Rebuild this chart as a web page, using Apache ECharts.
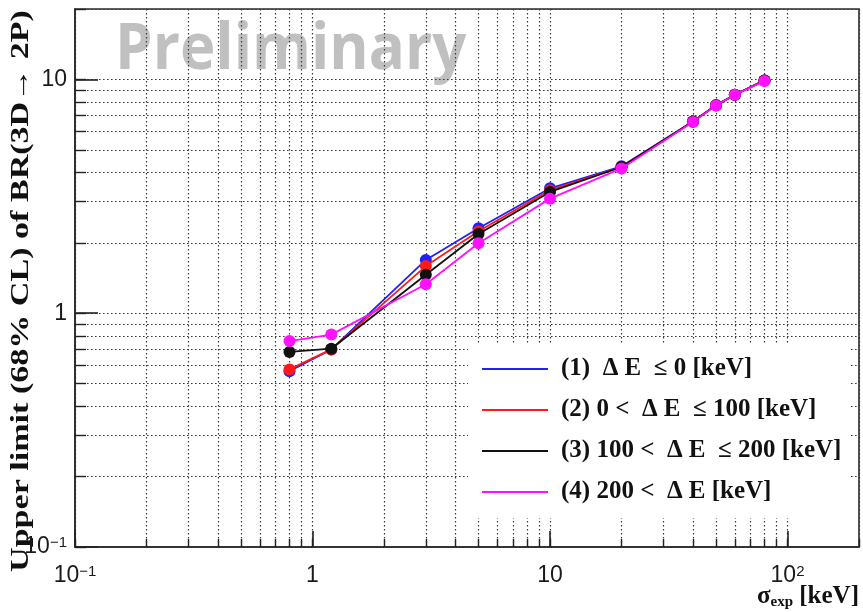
<!DOCTYPE html>
<html>
<head>
<meta charset="utf-8">
<script src="https://cdn.jsdelivr.net/npm/echarts@6/dist/echarts.min.js"></script>
<style>
  html, body { margin: 0; padding: 0; background: #fff; }
  #chart { width: 863px; height: 612px; }
</style>
</head>
<body>
<div id="chart"></div>
<script>
// Expected resolution sigma_exp [keV]
const sigmaExp = [0.8, 1.2, 3, 5, 10, 20, 40, 50, 60, 80];

// Upper limits (68% CL) for each Delta-E selection
const limitDE1 = [0.565, 0.70, 1.69, 2.31, 3.42, 4.25, 6.60, 7.75, 8.60, 9.90];
const limitDE2 = [0.575, 0.70, 1.59, 2.24, 3.36, 4.22, 6.60, 7.75, 8.60, 9.90];
const limitDE3 = [0.683, 0.705, 1.46, 2.18, 3.30, 4.22, 6.60, 7.75, 8.60, 9.90];
const limitDE4 = [0.76, 0.81, 1.33, 1.99, 3.09, 4.16, 6.58, 7.73, 8.59, 9.85];

const seriesNames = [
  '(1)  \u0394 E  \u2264 0 [keV]',
  '(2) 0 <  \u0394 E  \u2264 100 [keV]',
  '(3) 100 <  \u0394 E  \u2264 200 [keV]',
  '(4) 200 <  \u0394 E [keV]'
];
const seriesColors = ['#2020ff', '#ff1a1a', '#111111', '#ff10ff'];

// Axis ranges and decade ticks
const xRange = [0.1, 200];
const yRange = [0.1, 20];
const xMajor = [0.1, 1, 10, 100];
const yMajor = [0.1, 1, 10];
const xMajorLabels = ['{b|10}{s|\u22121}', '{b|1}', '{b|10}', '{b|10}{s|2}'];
const yMajorLabels = ['{b|10}{s|\u22121}', '{b|1}', '{b|10}'];

// minor ticks at 2..9 of each decade, kept inside the range
function minorTicks(range) {
  const out = [];
  for (let e = -1; e <= 2; e++) {
    for (let m = 1; m <= 9; m++) {
      const v = +(m * Math.pow(10, e)).toPrecision(6);
      if (v >= range[0] - 1e-9 && v <= range[1] + 1e-9) out.push(v);
    }
  }
  return out;
}
const xMinor = minorTicks(xRange);
const yMinor = minorTicks(yRange);

function decadeLabel(labels, majors) {
  return function (v) {
    const e = Math.round(Math.log10(v));
    const i = majors.findIndex(m => Math.round(Math.log10(m)) === e);
    return i >= 0 ? labels[i] : '';
  };
}

const tickFont = 'Liberation Sans, Arial, sans-serif';
const serif = 'Liberation Serif, Times New Roman, serif';
const frameColor = '#2a2a2a';
const gridLine = { show: true, lineStyle: { color: '#3a3a3a', width: 1.2, type: [1.6, 2.4] } };
const richTick = {
  b: { fontSize: 23, fontFamily: tickFont, color: '#1a1a1a' },
  s: { fontSize: 15, fontFamily: tickFont, color: '#1a1a1a', verticalAlign: 'top' }
};

const chart = echarts.init(document.getElementById('chart'), null, { renderer: 'canvas' });

const option = {
  backgroundColor: '#fff',
  animation: false,
  grid: {
    left: 75, right: 4, top: 9, bottom: 65,
    show: true, borderColor: frameColor, borderWidth: 1.6, backgroundColor: 'transparent'
  },
  xAxis: [
    {
      type: 'log', logBase: 10, min: xRange[0], max: xRange[1], position: 'bottom',
      axisLine: { show: true, lineStyle: { color: frameColor, width: 1.6 } },
      axisTick: { show: true, inside: true, length: 8, customValues: xMinor, lineStyle: { color: '#222', width: 1.4 } },
      axisLabel: { show: false },
      splitLine: gridLine
    },
    {
      type: 'log', logBase: 10, min: xRange[0], max: xRange[1], position: 'bottom',
      axisLine: { show: false },
      axisTick: { show: true, inside: true, length: 16, customValues: xMajor, lineStyle: { color: '#222', width: 1.6 } },
      axisLabel: {
        show: true, customValues: xMajor, margin: 17,
        formatter: decadeLabel(xMajorLabels, xMajor), rich: richTick
      },
      splitLine: { show: false }
    }
  ],
  yAxis: [
    {
      type: 'log', logBase: 10, min: yRange[0], max: yRange[1], position: 'left',
      axisLine: { show: true, lineStyle: { color: frameColor, width: 1.6 } },
      axisTick: { show: true, inside: true, length: 11, customValues: yMinor, lineStyle: { color: '#222', width: 1.4 } },
      axisLabel: { show: false },
      splitLine: gridLine
    },
    {
      type: 'log', logBase: 10, min: yRange[0], max: yRange[1], position: 'left',
      axisLine: { show: false },
      axisTick: { show: true, inside: true, length: 23, customValues: yMajor, lineStyle: { color: '#222', width: 1.6 } },
      axisLabel: {
        show: true, customValues: yMajor, margin: 8,
        formatter: decadeLabel(yMajorLabels, yMajor), rich: richTick
      },
      splitLine: { show: false }
    }
  ],
  legend: {
    orient: 'vertical',
    left: 468, top: 345,
    width: 375,
    backgroundColor: '#fff',
    padding: [10, 8, 12, 14],
    itemGap: 13,
    itemWidth: 66, itemHeight: 2,
    icon: 'rect',
    textStyle: {
      fontFamily: serif, fontWeight: 'bold', fontSize: 25, color: '#111',
      lineHeight: 28, padding: [0, 0, 0, 8]
    },
    data: seriesNames
  },
  graphic: [
    {
      type: 'text', z: -1, x: 115, y: 18, scaleY: 1.08,
      style: {
        text: 'Preliminary', fill: '#c0c0c0',
        font: 'bold 60px "Open Sans", "DejaVu Sans", sans-serif'
      }
    },
    {
      type: 'text', x: 21, y: 291, rotation: Math.PI / 2, scaleX: 1.31,
      style: {
        text: 'Upper limit (68% CL) of BR(3D\u2192 2P)',
        fill: '#111', align: 'center', verticalAlign: 'middle',
        font: 'bold 26px ' + serif
      }
    },
    {
      type: 'text', x: 859, y: 597,
      style: {
        text: '{a|\u03c3}{b|exp}{a| [keV]}',
        align: 'right', verticalAlign: 'middle',
        rich: {
          a: { fontFamily: serif, fontWeight: 'bold', fontSize: 25, fill: '#111' },
          b: { fontFamily: serif, fontWeight: 'bold', fontSize: 15, fill: '#111', verticalAlign: 'bottom' }
        }
      }
    }
  ],
  series: [limitDE1, limitDE2, limitDE3, limitDE4].map((vals, i) => ({
    name: seriesNames[i],
    type: 'line',
    xAxisIndex: 0, yAxisIndex: 0,
    data: sigmaExp.map((x, k) => [x, vals[k]]),
    symbol: 'circle', symbolSize: 12,
    itemStyle: { color: seriesColors[i] },
    lineStyle: { color: seriesColors[i], width: 1.8 },
    z: 3 + i
  }))
};

chart.setOption(option);
</script>
</body>
</html>
